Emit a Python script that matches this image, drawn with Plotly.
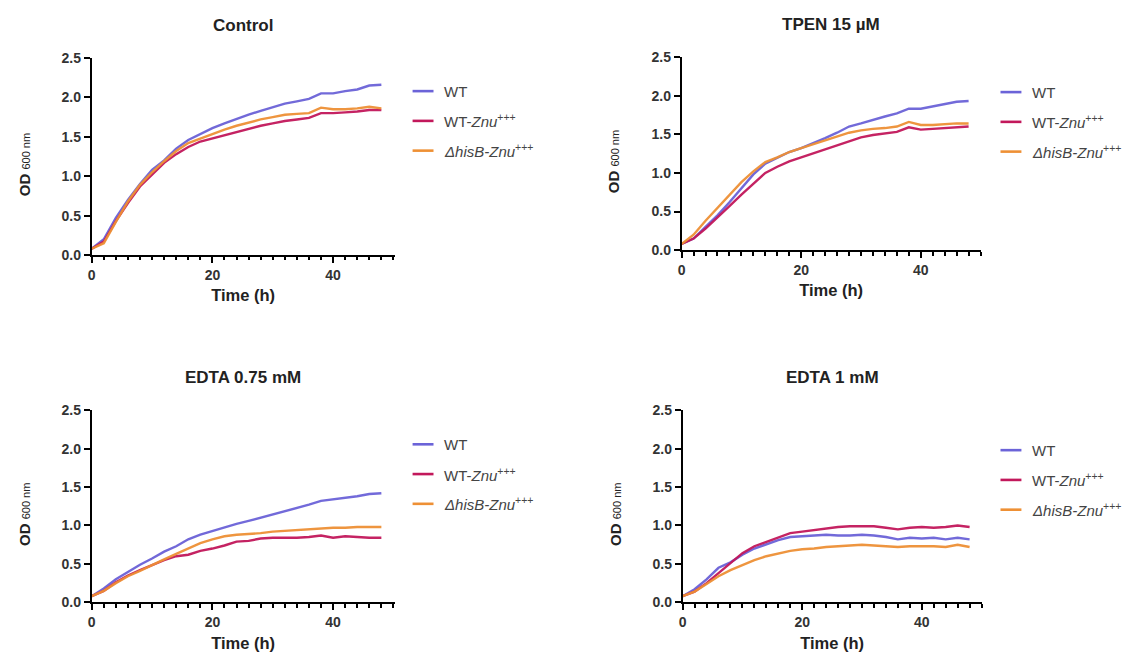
import plotly.graph_objects as go

# ---------------- data ----------------
time_h = [0, 2, 4, 6, 8, 10, 12, 14, 16, 18, 20, 22, 24, 26, 28, 30, 32, 34, 36, 38, 40, 42, 44, 46, 48]

panel_titles = ["Control", "TPEN 15 µM", "EDTA 0.75 mM", "EDTA 1 mM"]
series_names = ["WT", "WT-<i>Znu</i><sup>+++</sup>", "<i>ΔhisB-Znu</i><sup>+++</sup>"]
series_colors = ["#6b63d8", "#c2185b", "#ee9035"]

control_wt = [0.08, 0.20, 0.47, 0.70, 0.90, 1.08, 1.20, 1.35, 1.46, 1.54, 1.61, 1.67, 1.73, 1.78, 1.83, 1.88, 1.92, 1.95, 1.98, 2.05, 2.05, 2.08, 2.10, 2.15, 2.16]
control_znu = [0.08, 0.17, 0.43, 0.66, 0.87, 1.02, 1.17, 1.28, 1.37, 1.44, 1.48, 1.52, 1.56, 1.60, 1.64, 1.67, 1.70, 1.72, 1.74, 1.80, 1.80, 1.81, 1.82, 1.84, 1.84]
control_hisb = [0.08, 0.15, 0.42, 0.68, 0.89, 1.05, 1.19, 1.32, 1.42, 1.48, 1.53, 1.59, 1.64, 1.68, 1.72, 1.75, 1.78, 1.79, 1.80, 1.87, 1.85, 1.85, 1.86, 1.88, 1.86]

tpen_wt = [0.08, 0.15, 0.30, 0.45, 0.62, 0.80, 0.98, 1.12, 1.20, 1.27, 1.32, 1.38, 1.45, 1.52, 1.60, 1.64, 1.69, 1.73, 1.77, 1.83, 1.83, 1.86, 1.89, 1.92, 1.93]
tpen_znu = [0.08, 0.15, 0.28, 0.42, 0.57, 0.72, 0.86, 1.00, 1.08, 1.15, 1.20, 1.25, 1.30, 1.36, 1.40, 1.46, 1.49, 1.51, 1.53, 1.59, 1.56, 1.57, 1.58, 1.59, 1.60]
tpen_hisb = [0.08, 0.20, 0.38, 0.55, 0.72, 0.88, 1.02, 1.14, 1.20, 1.27, 1.32, 1.37, 1.43, 1.48, 1.52, 1.55, 1.57, 1.58, 1.60, 1.66, 1.62, 1.62, 1.63, 1.64, 1.64]

edta075_wt = [0.08, 0.18, 0.30, 0.40, 0.49, 0.57, 0.66, 0.73, 0.82, 0.88, 0.93, 0.98, 1.02, 1.06, 1.10, 1.15, 1.19, 1.23, 1.27, 1.32, 1.34, 1.36, 1.38, 1.41, 1.42]
edta075_znu = [0.08, 0.15, 0.26, 0.35, 0.42, 0.49, 0.55, 0.60, 0.62, 0.67, 0.70, 0.74, 0.79, 0.80, 0.83, 0.84, 0.84, 0.84, 0.85, 0.87, 0.84, 0.86, 0.85, 0.84, 0.84]
edta075_hisb = [0.08, 0.15, 0.25, 0.34, 0.41, 0.49, 0.56, 0.63, 0.70, 0.77, 0.82, 0.86, 0.88, 0.89, 0.90, 0.92, 0.93, 0.94, 0.95, 0.96, 0.97, 0.97, 0.98, 0.98, 0.98]

edta1_wt = [0.08, 0.17, 0.30, 0.45, 0.52, 0.62, 0.70, 0.76, 0.81, 0.85, 0.86, 0.87, 0.88, 0.87, 0.87, 0.88, 0.87, 0.85, 0.82, 0.84, 0.83, 0.84, 0.82, 0.84, 0.82]
edta1_znu = [0.08, 0.14, 0.25, 0.38, 0.52, 0.64, 0.73, 0.79, 0.84, 0.90, 0.92, 0.94, 0.96, 0.98, 0.99, 0.99, 0.99, 0.97, 0.95, 0.97, 0.98, 0.97, 0.98, 1.00, 0.98]
edta1_hisb = [0.08, 0.14, 0.24, 0.34, 0.42, 0.49, 0.55, 0.60, 0.64, 0.67, 0.69, 0.70, 0.72, 0.73, 0.74, 0.75, 0.74, 0.73, 0.72, 0.73, 0.73, 0.73, 0.72, 0.75, 0.72]

panel_data = [
    [control_wt, control_znu, control_hisb],
    [tpen_wt, tpen_znu, tpen_hisb],
    [edta075_wt, edta075_znu, edta075_hisb],
    [edta1_wt, edta1_znu, edta1_hisb],
]

x_ticks = [0, 20, 40]
y_ticks = [0.0, 0.5, 1.0, 1.5, 2.0, 2.5]

# ---------------- layout geometry (page pixels) ----------------
OFF = 8  # browser default body margin
W, H = 1140 - OFF, 665 - OFF
# (left, right, top, bottom) in page pixels
panel_px = [
    (88, 392, 51, 253),
    (680, 980, 50, 248),
    (88, 392, 412, 609),
    (681, 981, 412, 609),
]
legend_px = [  # (line x0, line y of first item)
    (410, 85),
    (1000, 86),
    (410, 447),
    (1000, 453),
]
legend_gap = 30.5

def px2x(px):
    return (px - OFF) / W

def px2y(py):
    return 1 - (py - OFF) / H

FONT = "Liberation Sans, Arial, sans-serif"
fig = go.Figure()
layout = dict(
    width=W, height=H,
    margin=dict(l=0, r=0, t=0, b=0),
    paper_bgcolor="white", plot_bgcolor="white",
    showlegend=False,
    font=dict(family=FONT, color="#222"),
)
shapes = []
annotations = []

for i, (l, r, t, b) in enumerate(panel_px):
    xa = "xaxis" if i == 0 else f"xaxis{i+1}"
    ya = "yaxis" if i == 0 else f"yaxis{i+1}"
    xr = "x" if i == 0 else f"x{i+1}"
    yr = "y" if i == 0 else f"y{i+1}"
    x_end = 50.2 if i in (0, 2) else 50.0
    layout[xa] = dict(
        domain=[px2x(l), px2x(r)], anchor=yr, range=[0, x_end],
        tickvals=x_ticks, ticks="outside", ticklen=6, tickwidth=1.6,
        tickcolor="black", showline=True, linecolor="black", linewidth=1.8,
        showgrid=False, zeroline=False,
        tickfont=dict(family=FONT, size=14, color="#333", weight="bold"),
        minor=dict(dtick=2, tick0=0, ticks="outside", ticklen=3.5, tickwidth=1.6, tickcolor="black", showgrid=False),
        title=dict(text="<b>Time (h)</b>", font=dict(family=FONT, size=16.5, color="#222"), standoff=8),
    )
    layout[ya] = dict(
        domain=[px2y(b), px2y(t)], anchor=xr, range=[0, 2.5],
        tickvals=y_ticks, ticktext=[f"{v:.1f}" for v in y_ticks],
        ticks="outside", ticklen=6, tickwidth=1.6, tickcolor="black",
        showline=True, linecolor="black", linewidth=1.8,
        showgrid=False, zeroline=False,
        tickfont=dict(family=FONT, size=14, color="#333", weight="bold"),
    )
    for s in range(3):
        fig.add_trace(go.Scatter(
            x=time_h, y=panel_data[i][s], mode="lines", name=series_names[s],
            line=dict(color=series_colors[s], width=2.4, shape="linear"),
            xaxis=xr, yaxis=yr, opacity=0.95,
        ))
    # panel title
    annotations.append(dict(
        text=f"<b>{panel_titles[i]}</b>", x=px2x((l + r) / 2), y=px2y(t - 33),
        xref="paper", yref="paper", showarrow=False, xanchor="center", yanchor="middle",
        font=dict(family=FONT, size=17, color="#222"),
    ))
    # y axis title
    annotations.append(dict(
        text="<b>OD</b> <span style='font-size:11px'>600 nm</span>",
        x=px2x(l - 68), y=px2y((t + b) / 2 + 8), xref="paper", yref="paper",
        showarrow=False, textangle=-90, xanchor="center", yanchor="middle",
        font=dict(family=FONT, size=15, color="#222"),
    ))
    # legend
    lx, ly = legend_px[i]
    for s in range(3):
        yy = ly + s * legend_gap
        shapes.append(dict(
            type="line", xref="paper", yref="paper",
            x0=px2x(lx), x1=px2x(lx + 21), y0=px2y(yy), y1=px2y(yy),
            line=dict(color=series_colors[s], width=2.6),
        ))
        annotations.append(dict(
            text=series_names[s], x=px2x(lx + 30), y=px2y(yy),
            xref="paper", yref="paper", showarrow=False, xanchor="left", yanchor="middle",
            font=dict(family=FONT, size=15, color="#444"),
        ))

layout["shapes"] = shapes
layout["annotations"] = annotations
fig.update_layout(**layout)
fig.write_html("out.html")
